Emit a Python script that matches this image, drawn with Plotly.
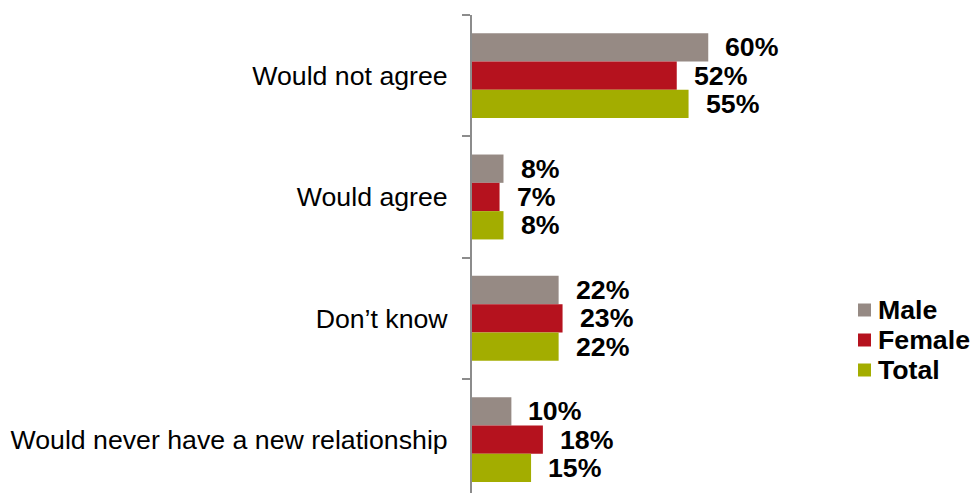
import plotly.graph_objects as go

categories = ["Would not agree", "Would agree", "Don\u2019t know", "Would never have a new relationship"]
series_names = ["Male", "Female", "Total"]
male = [60, 8, 22, 10]
female = [52, 7, 23, 18]
total = [55, 8, 22, 15]
colors = ["#968A84", "#B5121E", "#A3AD00"]

W, H = 973, 493
ML, MR, MT, MB = 472, 186, 15, 0
XMAX = 80
FONT = "Liberation Sans, Arial"
FS = 26.7

fig = go.Figure()
for name, vals, col in zip(series_names, [male, female, total], colors):
    fig.add_trace(go.Bar(
        y=categories, x=vals, name=name, orientation="h",
        marker=dict(color=col, line=dict(width=0)),
        showlegend=False,
    ))

# value labels beside each bar
n = len(series_names)
group = 0.7
bw = group / n
for i, vals in enumerate([male, female, total]):
    for j, v in enumerate(vals):
        fig.add_annotation(
            x=v, y=j - group / 2 + bw * (i + 0.5),
            xref="x", yref="y",
            text=f"<b>{v}%</b>", showarrow=False,
            xanchor="left", yanchor="middle", xshift=15,
            font=dict(family=FONT, size=FS, color="#000000"),
        )

# legend: colour squares with bold names
pw = W - ML - MR
ph = H - MT - MB
def px_x(px):
    return (px - ML) / pw
def px_y(py):
    return (H - MB - py) / ph

for k, (name, col) in enumerate(zip(series_names, colors)):
    cy = 310 + 30 * k
    fig.add_shape(
        type="rect", xref="paper", yref="paper",
        x0=px_x(858), x1=px_x(871), y0=px_y(cy + 6.5), y1=px_y(cy - 6.5),
        fillcolor=col, line=dict(width=0),
    )
    fig.add_annotation(
        x=px_x(876), y=px_y(cy), xref="paper", yref="paper",
        text=f"<b>{name}</b>", showarrow=False,
        xanchor="left", yanchor="middle",
        font=dict(family=FONT, size=FS, color="#000000"),
    )

fig.update_layout(
    width=W, height=H,
    margin=dict(l=ML, r=MR, t=MT, b=MB),
    paper_bgcolor="white", plot_bgcolor="white",
    barmode="group", bargap=0.3, bargroupgap=0,
    font=dict(family=FONT, size=FS, color="#000000"),
    showlegend=False,
    xaxis=dict(range=[0, XMAX], visible=False, fixedrange=True),
    yaxis=dict(
        type="category", categoryorder="array", categoryarray=categories,
        range=[3.44, -0.5],
        showline=True, linecolor="#8C8C8C", linewidth=2,
        ticks="outside", tickson="boundaries", ticklen=8, tickwidth=2, tickcolor="#8C8C8C",
        ticklabelstandoff=17,
        showgrid=False, zeroline=False,
        tickfont=dict(family=FONT, size=FS, color="#000000"),
    ),
)

fig.write_html("out.html")
